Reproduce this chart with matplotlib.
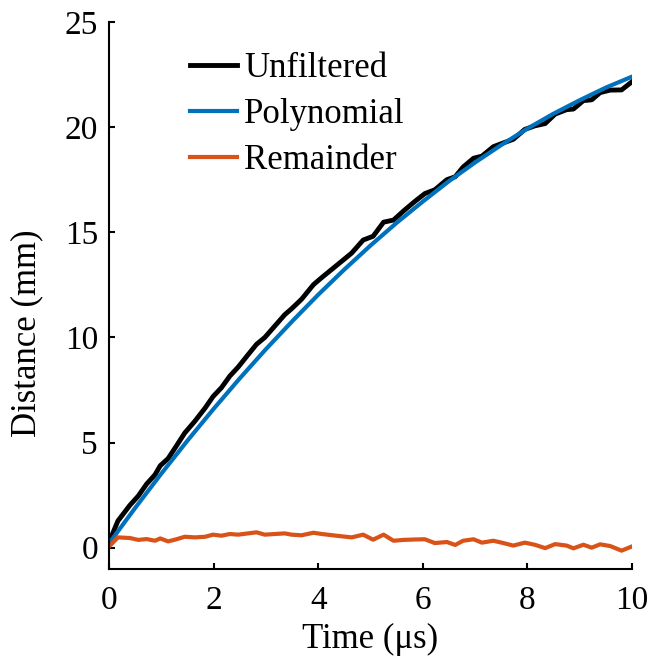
import matplotlib
matplotlib.use('Agg')
import matplotlib.pyplot as plt

# time axis (us) of the readings
t = [0.0, 0.17, 0.40, 0.56, 0.72, 0.88, 0.98, 1.13, 1.26, 1.45, 1.64, 1.84, 1.99,
     2.15, 2.31, 2.47, 2.66, 2.82, 2.98, 3.17, 3.36, 3.49, 3.68, 3.91, 4.07, 4.38,
     4.64, 4.86, 5.05, 5.25, 5.44, 5.63, 5.85, 6.04, 6.23, 6.46, 6.62, 6.77, 6.97,
     7.13, 7.35, 7.54, 7.73, 7.95, 8.14, 8.34, 8.53, 8.75, 8.88, 9.07, 9.23, 9.39,
     9.58, 9.80, 9.99]

unfiltered = [0.25, 1.27, 2.02, 2.46, 3.03, 3.47, 3.90, 4.24, 4.73, 5.46, 6.01, 6.65, 7.19,
              7.61, 8.16, 8.59, 9.18, 9.67, 10.00, 10.54, 11.08, 11.36, 11.81, 12.51, 12.85, 13.48,
              14.01, 14.63, 14.81, 15.48, 15.58, 16.01, 16.47, 16.84, 17.02, 17.50, 17.64, 18.10, 18.52,
              18.62, 19.07, 19.25, 19.42, 19.89, 20.06, 20.17, 20.62, 20.83, 20.86, 21.26, 21.30, 21.64,
              21.76, 21.77, 22.14]

remainder = [0.05, 0.49, 0.46, 0.37, 0.41, 0.33, 0.44, 0.30, 0.38, 0.52, 0.49, 0.52, 0.62,
             0.57, 0.65, 0.62, 0.68, 0.73, 0.62, 0.65, 0.68, 0.62, 0.59, 0.71, 0.65, 0.56,
             0.49, 0.62, 0.38, 0.62, 0.33, 0.37, 0.39, 0.40, 0.22, 0.27, 0.13, 0.33, 0.40,
             0.24, 0.33, 0.22, 0.10, 0.24, 0.14, -0.02, 0.17, 0.10, -0.03, 0.14, 0.00, 0.16,
             0.08, -0.14, 0.05]

# smooth fit, read every 0.5 us
t_poly = [0.0, 0.5, 1.0, 1.5, 2.0, 2.5, 3.0, 3.5, 4.0, 4.5, 5.0,
          5.5, 6.0, 6.5, 7.0, 7.5, 8.0, 8.5, 9.0, 9.5, 10.0]
polynomial = [0.2, 1.89, 3.52, 5.09, 6.60, 8.05, 9.44, 10.76, 12.03, 13.23, 14.37,
              15.45, 16.46, 17.43, 18.32, 19.15, 19.93, 20.64, 21.28, 21.88, 22.4]

plt.rcParams['font.family'] = 'Liberation Serif'

fig = plt.figure(figsize=(6.55, 6.64), dpi=100)
ax = fig.add_axes([0.1664, 0.1435, 0.7985, 0.8234])

ax.plot(t, unfiltered, color='black', lw=3.5, label='Unfiltered')
ax.plot(t_poly, polynomial, color='#0072BD', lw=3, label='Polynomial')
ax.plot(t, remainder, color='#D95319', lw=3, label='Remainder')

ax.set_xlim(0, 10)
ax.set_ylim(-1, 25)
ax.set_xticks([0, 2, 4, 6, 8, 10])
ax.set_yticks([0, 5, 10, 15, 20, 25])

for s in ['top', 'right']:
    ax.spines[s].set_visible(False)
for s in ['left', 'bottom']:
    ax.spines[s].set_linewidth(1.5)

ax.tick_params(direction='in', length=4, width=1.5, labelsize=24)
ax.tick_params(axis='x', pad=12)
ax.tick_params(axis='y', pad=8)

ax.set_xlabel('Time (\u03bcs)', fontsize=25, labelpad=5)
ax.set_ylabel('Distance (mm)', fontsize=25)
ax.yaxis.set_label_coords(-0.125, 0.43)

ax.legend(loc='upper left', bbox_to_anchor=(0.155, 0.945), frameon=False,
          fontsize=25, handlelength=1.35, handletextpad=0.2, labelspacing=0.38,
          borderpad=0, borderaxespad=0)

fig.savefig('out.png', dpi=100)
